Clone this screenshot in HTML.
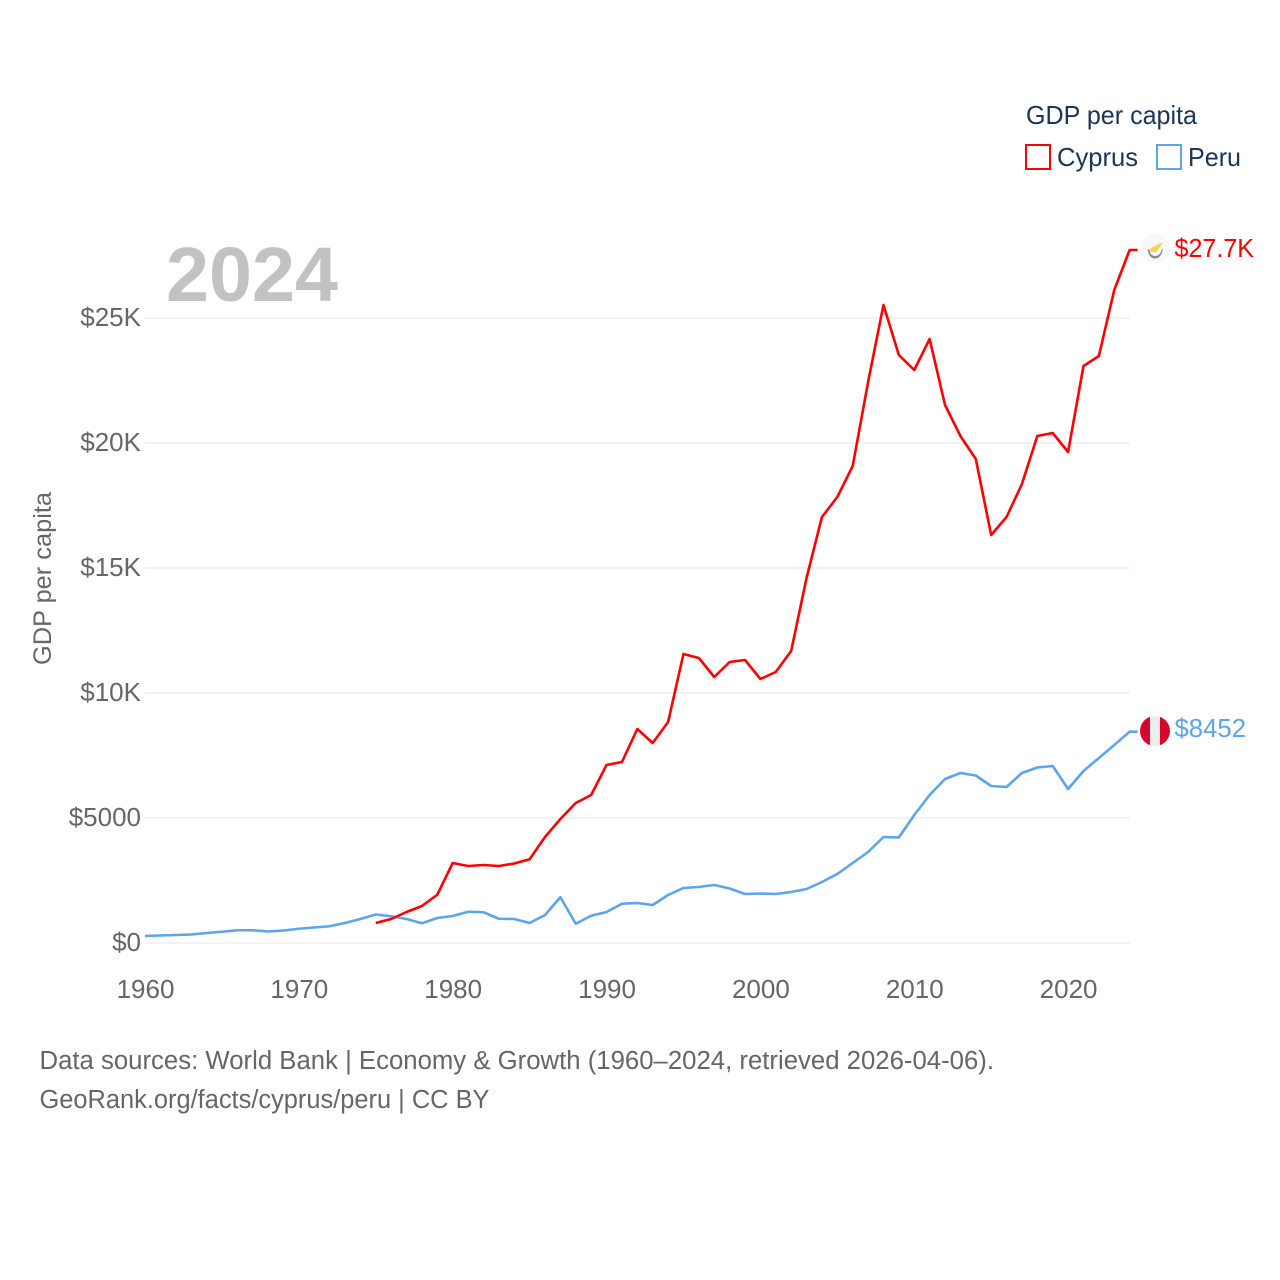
<!DOCTYPE html>
<html lang="en">
<head>
<meta charset="utf-8">
<title>GDP per capita: Cyprus and Peru</title>
<style>
html,body{margin:0;padding:0;background:#fff;}
svg{display:block;font-family:"Liberation Sans",sans-serif;}
text{font-family:"Liberation Sans",sans-serif;}
</style>
</head>
<body>
<svg id="chart" xmlns="http://www.w3.org/2000/svg" width="1280" height="1280" viewBox="0 0 1280 1280">
  <rect width="1280" height="1280" fill="#fff"/>
  <g id="grid"></g>
  <text x="166" y="301" font-size="77" font-weight="700" fill="#c2c2c2" textLength="172" lengthAdjust="spacingAndGlyphs">2024</text>
  <g id="yticks"></g>
  <g id="xticks"></g>
  <text transform="translate(51,665) rotate(-90)" font-size="25" fill="#666" textLength="173" lengthAdjust="spacingAndGlyphs">GDP per capita</text>
  <g id="series"></g>

  <g>
    <text x="1026" y="124" font-size="26" fill="#1a3557" textLength="171" lengthAdjust="spacingAndGlyphs">GDP per capita</text>
    <g>
      <rect x="1026" y="145" width="24" height="24" fill="none" stroke="#ff0000" stroke-width="2"/>
      <text x="1057" y="166" font-size="26" fill="#1a3557" textLength="81" lengthAdjust="spacingAndGlyphs">Cyprus</text>
    </g>
    <g>
      <rect x="1157" y="145" width="24" height="24" fill="none" stroke="#5ba4ee" stroke-width="2"/>
      <text x="1188" y="166" font-size="26" fill="#1a3557" textLength="53" lengthAdjust="spacingAndGlyphs">Peru</text>
    </g>
  </g>

  <g>
    <circle cx="1155" cy="249" r="15" fill="#f8f8f8"/>
    <path d="M1149 249 L1155 246 L1163 242 L1160 247 L1156 252 L1151 252 Z" fill="#fcd34d"/>
    <path d="M1147.5 249 Q1149 258.5 1155 258.5 Q1161 258.5 1163 249 L1161.5 250 Q1160 256 1155 256 Q1150.500 256 1149.500 250 Z" fill="#8a8a8a"/>
  </g>
  <g>
    <defs>
      <clipPath id="peru-clip"><circle cx="1155" cy="731" r="15"/></clipPath>
    </defs>
    <g clip-path="url(#peru-clip)">
      <rect x="1140" y="716" width="10" height="30" fill="#d90429"/>
      <rect x="1150" y="716" width="10" height="30" fill="#eeeeee"/>
      <rect x="1160" y="716" width="10" height="30" fill="#d90429"/>
    </g>
  </g>
  <text x="1174.500" y="257" font-size="26" fill="#ff0000" textLength="79.500" lengthAdjust="spacingAndGlyphs">$27.7K</text>
  <text x="1174.500" y="737" font-size="26" fill="#5ba4ee" textLength="71.500" lengthAdjust="spacingAndGlyphs">$8452</text>

  <text x="39.500" y="1069" font-size="25.500" fill="#666" textLength="954.500" lengthAdjust="spacingAndGlyphs">Data sources: World Bank | Economy &amp; Growth (1960–2024, retrieved 2026-04-06).</text>
  <text x="39.500" y="1108" font-size="25.500" fill="#666" textLength="450" lengthAdjust="spacingAndGlyphs">GeoRank.org/facts/cyprus/peru | CC BY</text>
</svg>
<script>
const cyprusStartYear = 1975;
const cyprusValues = [800,960,1240,1480,1930,3200,3080,3120,3080,3180,3350,4240,4960,5600,5920,7120,7240,8560,8000,8840,11560,11400,10640,11240,11320,10560,10840,11680,14600,17040,17840,19080,22440,25520,23520,22920,24160,21520,20280,19360,16320,17040,18360,20280,20400,19640,23080,23480,26120,27720];
const peruStartYear = 1960;
const peruValues = [280,300,320,340,400,450,510,510,460,500,570,620,670,800,960,1140,1070,960,790,1000,1080,1250,1230,970,960,800,1120,1830,770,1090,1240,1570,1600,1520,1920,2200,2240,2320,2180,1960,1980,1960,2040,2160,2440,2760,3200,3640,4240,4220,5120,5920,6560,6800,6700,6280,6240,6800,7020,7080,6160,6880,7400,7920,8452];
const yTickValues = [0,5000,10000,15000,20000,25000];
const yTickLabels = ["$0","$5000","$10K","$15K","$20K","$25K"];
const xTickValues = [1960,1970,1980,1990,2000,2010,2020];

const NS = "http://www.w3.org/2000/svg";
const X0 = 145, XPERYEAR = 15.385, Y0 = 943, YPERDOLLAR = 0.025, STUB = 8;
function xScale(year) { return X0 + (year - 1960) * XPERYEAR; }
function yScale(value) { return Y0 - value * YPERDOLLAR; }

const grid = document.getElementById("grid");
const yticks = document.getElementById("yticks");
const xticks = document.getElementById("xticks");
const series = document.getElementById("series");

yTickValues.forEach(function (v, i) {
  const line = document.createElementNS(NS, "line");
  
  
  line.setAttribute("x1", xScale(1960));
  line.setAttribute("x2", xScale(2024));
  line.setAttribute("y1", yScale(v));
  line.setAttribute("y2", yScale(v));
  line.setAttribute("stroke", "#eeeeee");
  line.setAttribute("stroke-width", "1.5");
  grid.appendChild(line);

  const t = document.createElementNS(NS, "text");
  
  
  t.setAttribute("x", 141);
  t.setAttribute("y", yScale(v) + 8);
  t.setAttribute("text-anchor", "end");
  t.setAttribute("font-size", "26");
  t.setAttribute("fill", "#666");
  t.textContent = yTickLabels[i];
  yticks.appendChild(t);
});

xTickValues.forEach(function (year) {
  const t = document.createElementNS(NS, "text");
  
  
  t.setAttribute("x", xScale(year) + 0.5);
  t.setAttribute("y", 998);
  t.setAttribute("text-anchor", "middle");
  t.setAttribute("font-size", "26");
  t.setAttribute("fill", "#666");
  t.textContent = String(year);
  xticks.appendChild(t);
});

function buildPoints(startYear, values) {
  const pts = values.map(function (v, i) {
    return xScale(startYear + i).toFixed(2) + "," + yScale(v).toFixed(2);
  });
  const last = values[values.length - 1];
  const lastYear = startYear + values.length - 1;
  pts.push((xScale(lastYear) + STUB).toFixed(2) + "," + yScale(last).toFixed(2));
  return pts.join(" ");
}

const peruLine = document.createElementNS(NS, "polyline");


peruLine.setAttribute("points", buildPoints(peruStartYear, peruValues));
peruLine.setAttribute("fill", "none");
peruLine.setAttribute("stroke", "#5ba4ee");
peruLine.setAttribute("stroke-width", "2.6");
peruLine.setAttribute("stroke-linejoin", "round");
series.appendChild(peruLine);

const cyprusLine = document.createElementNS(NS, "polyline");


cyprusLine.setAttribute("points", buildPoints(cyprusStartYear, cyprusValues));
cyprusLine.setAttribute("fill", "none");
cyprusLine.setAttribute("stroke", "#ff0000");
cyprusLine.setAttribute("stroke-width", "2.6");
cyprusLine.setAttribute("stroke-linejoin", "round");
series.appendChild(cyprusLine);
</script>
</body>
</html>
